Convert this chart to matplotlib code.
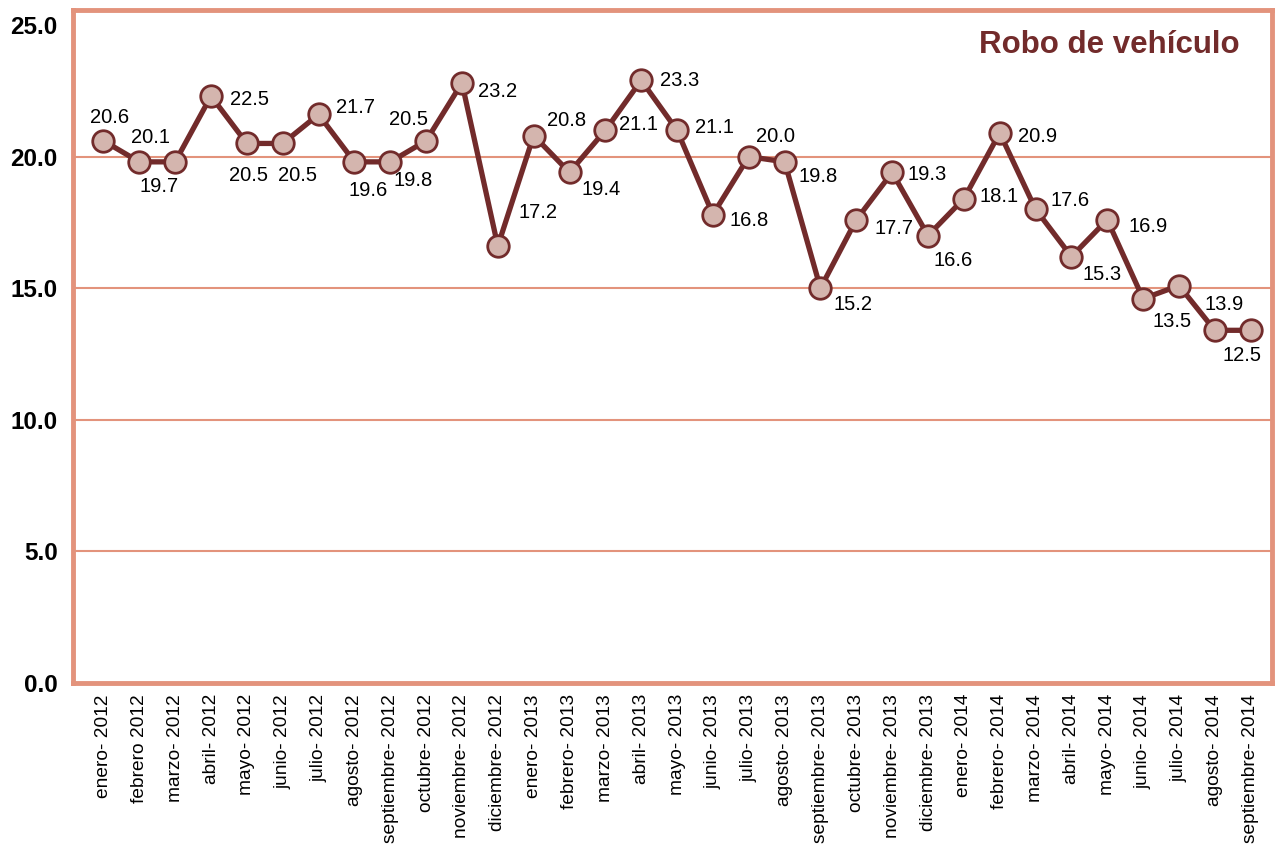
import numpy as np
import matplotlib
matplotlib.use("Agg")
import matplotlib.pyplot as plt

plt.rcParams['font.family'] = ['Liberation Sans', 'DejaVu Sans']

meses = ["enero- 2012", "febrero 2012", "marzo- 2012", "abril- 2012", "mayo- 2012",
         "junio- 2012", "julio- 2012", "agosto- 2012", "septiembre- 2012", "octubre- 2012",
         "noviembre- 2012", "diciembre- 2012", "enero- 2013", "febrero- 2013", "marzo- 2013",
         "abril- 2013", "mayo- 2013", "junio- 2013", "julio- 2013", "agosto- 2013",
         "septiembre- 2013", "octubre- 2013", "noviembre- 2013", "diciembre- 2013",
         "enero- 2014", "febrero- 2014", "marzo- 2014", "abril- 2014", "mayo- 2014",
         "junio- 2014", "julio- 2014", "agosto- 2014", "septiembre- 2014"]

# plotted values
tasa = [20.6, 19.8, 19.8, 22.3, 20.5, 20.5, 21.6, 19.8, 19.8, 20.6,
        22.8, 16.6, 20.8, 19.4, 21.0, 22.9, 21.0, 17.8, 20.0, 19.8,
        15.0, 17.6, 19.4, 17.0, 18.4, 20.9, 18.0, 16.2, 17.6, 14.6,
        15.1, 13.4, 13.4]

# data labels as printed in the chart (point index, text)
etiq_idx = list(range(30)) + [31, 32]
etiquetas = ["20.6", "20.1", "19.7", "22.5", "20.5", "20.5", "21.7", "19.6", "19.8", "20.5",
             "23.2", "17.2", "20.8", "19.4", "21.1", "23.3", "21.1", "16.8", "20.0", "19.8",
             "15.2", "17.7", "19.3", "16.6", "18.1", "20.9", "17.6", "15.3", "16.9", "13.5",
             "13.9", "12.5"]

# label offsets in pixels (dx, dy downwards)
offs = [(6, -23), (11, -24), (-16, 25), (38, 3), (2, 32), (15, 32), (37, -7), (14, 29),
        (23, 19), (-18, -21), (36, 9), (40, -34), (33, -15), (32, 17), (33, -6), (38, 0),
        (37, -3), (36, 6), (27, -20), (34, 15), (33, 16), (38, 9), (35, 2), (25, 25),
        (35, -2), (38, 4), (35, -9), (31, 18), (41, 7), (29, 23), (9, -26), (-9, 25)]

granate = '#722B2B'
salmon = '#E3937C'

fig = plt.figure(figsize=(12.76, 8.48), dpi=100)
ax = fig.add_axes([0.0572, 0.1946, 0.9398, 0.7936])

x = np.arange(len(tasa))
for v in [5, 10, 15, 20]:
    ax.axhline(v, color=salmon, lw=1.5, zorder=1)

ax.plot(x, tasa, color=granate, lw=3.8, marker='o', ms=15.5,
        mfc='#D4B5AE', mec=granate, mew=2, zorder=3)

for i, t, (dx, dy) in zip(etiq_idx, etiquetas, offs):
    ax.annotate(t, (x[i], tasa[i]), xytext=(dx, -dy), textcoords='offset pixels',
                ha='center', va='center', fontsize=14.5, color='black', zorder=4)

ax.set_xlim(-0.85, 32.6)
ax.set_ylim(0, 25.57)
ax.set_yticks([0, 5, 10, 15, 20, 25])
ax.set_yticklabels(["%.1f" % v for v in [0, 5, 10, 15, 20, 25]],
                   fontsize=17.5, fontweight='bold')
ax.set_xticks(x)
ax.set_xticklabels(meses, rotation=90, fontsize=13.8, va='top', ha='center')
ax.tick_params(axis='both', length=0)
ax.tick_params(axis='y', pad=11)
ax.tick_params(axis='x', pad=8)

for s in ax.spines.values():
    s.set_color(salmon)
    s.set_linewidth(3.5)

ax.text(0.973, 0.948, "Robo de vehículo", transform=ax.transAxes, ha='right', va='center',
        fontsize=22.5, fontweight='bold', color=granate)

plt.savefig('out.png', dpi=100)
